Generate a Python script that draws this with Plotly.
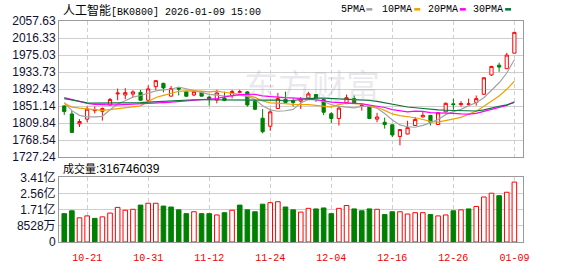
import plotly.graph_objects as go

# ---------------- data ----------------
dates = ["2025-10-16","2025-10-17","2025-10-20","2025-10-21","2025-10-22","2025-10-23","2025-10-24",
         "2025-10-27","2025-10-28","2025-10-29","2025-10-30","2025-10-31","2025-11-03","2025-11-04",
         "2025-11-05","2025-11-06","2025-11-07","2025-11-10","2025-11-11","2025-11-12","2025-11-13",
         "2025-11-14","2025-11-17","2025-11-18","2025-11-19","2025-11-20","2025-11-21","2025-11-24",
         "2025-11-25","2025-11-26","2025-11-27","2025-11-28","2025-12-01","2025-12-02","2025-12-03",
         "2025-12-04","2025-12-05","2025-12-08","2025-12-09","2025-12-10","2025-12-11","2025-12-12",
         "2025-12-15","2025-12-16","2025-12-17","2025-12-18","2025-12-19","2025-12-22","2025-12-23",
         "2025-12-24","2025-12-25","2025-12-26","2025-12-29","2025-12-30","2025-12-31","2026-01-05",
         "2026-01-06","2026-01-07","2026-01-08","2026-01-09"]

opens = [1851.82, 1832.31, 1808.22, 1819.69, 1840.34, 1838.74, 1854.11, 1880.96, 1878.20, 1880.50,
         1884.63, 1865.58, 1898.39, 1906.42, 1875.45, 1894.95, 1886.23, 1878.20, 1885.09, 1873.16,
         1866.04, 1870.86, 1876.37, 1884.86, 1885.78, 1863.29, 1821.99, 1802.49, 1845.39, 1867.88,
         1864.44, 1863.29, 1870.86, 1879.35, 1867.88, 1832.77, 1821.30, 1859.39, 1869.48, 1852.28,
         1850.21, 1819.69, 1812.12, 1805.93, 1777.71, 1783.67, 1804.32, 1824.97, 1828.87, 1806.62,
         1837.36, 1856.86, 1855.03, 1855.49, 1860.31, 1880.04, 1926.85, 1950.48, 1941.99, 1979.62]
highs = [1852.96, 1840.34, 1819.69, 1850.21, 1850.21, 1847.92, 1871.32, 1893.81, 1894.72, 1889.68,
         1890.82, 1901.61, 1913.77, 1908.03, 1900.00, 1897.02, 1888.53, 1888.53, 1887.38, 1877.06,
         1890.82, 1886.23, 1890.82, 1890.82, 1887.38, 1865.58, 1844.25, 1844.93, 1883.25, 1886.23,
         1869.48, 1873.16, 1886.23, 1880.50, 1869.03, 1836.44, 1848.83, 1879.35, 1877.06, 1855.72,
         1851.82, 1835.07, 1823.60, 1807.08, 1795.60, 1815.79, 1824.97, 1837.36, 1830.02, 1837.36,
         1860.31, 1869.48, 1863.29, 1869.48, 1877.06, 1921.34, 1948.87, 1956.67, 1980.31, 2030.78]
lows = [1830.02, 1786.43, 1800.65, 1812.12, 1833.46, 1816.25, 1852.96, 1865.58, 1867.88, 1872.47,
        1864.44, 1864.44, 1890.82, 1884.63, 1874.76, 1877.06, 1873.61, 1875.45, 1874.76, 1852.50,
        1858.01, 1863.29, 1870.17, 1882.79, 1850.21, 1841.49, 1785.28, 1791.47, 1844.93, 1859.85,
        1850.21, 1844.25, 1867.88, 1861.68, 1829.56, 1810.52, 1804.32, 1855.72, 1858.70, 1840.34,
        1819.69, 1812.12, 1796.75, 1776.10, 1756.14, 1782.98, 1803.63, 1824.28, 1804.32, 1805.93,
        1836.44, 1842.64, 1850.21, 1852.50, 1852.50, 1878.20, 1924.55, 1934.42, 1941.30, 1979.16]
closes = [1838.05, 1787.57, 1813.96, 1843.79, 1842.18, 1845.39, 1867.42, 1882.79, 1883.94, 1885.78,
          1865.58, 1893.12, 1913.08, 1895.41, 1893.81, 1892.66, 1875.22, 1886.23, 1875.45, 1869.03,
          1883.25, 1865.13, 1886.69, 1886.23, 1854.11, 1843.79, 1789.18, 1837.36, 1869.48, 1860.31,
          1859.85, 1867.19, 1880.96, 1867.88, 1836.44, 1821.30, 1846.54, 1871.78, 1859.39, 1853.65,
          1821.30, 1824.97, 1806.62, 1781.38, 1794.46, 1799.05, 1819.01, 1828.87, 1812.12, 1835.07,
          1858.01, 1855.03, 1857.32, 1856.63, 1869.48, 1919.96, 1947.49, 1945.89, 1975.03, 2030.10]
volumes_yi = [1.50, 1.65, 1.28, 1.38, 1.25, 1.33, 1.53, 1.83, 1.68, 1.73,
              1.95, 2.05, 2.05, 1.90, 1.85, 1.70, 1.50, 1.60, 1.50, 1.50,
              1.43, 1.55, 1.68, 1.95, 1.70, 1.60, 2.00, 2.08, 2.13, 1.85,
              1.70, 1.58, 1.78, 1.75, 1.80, 1.50, 1.78, 1.93, 1.75, 1.65,
              1.75, 1.73, 1.45, 1.60, 1.60, 1.48, 1.55, 1.55, 1.45, 1.38,
              1.43, 1.65, 1.70, 1.75, 1.88, 2.38, 2.58, 2.45, 2.63, 3.16746039]

# moving-average values before a full window is available
ma5_head = [1859.8, 1840.3, 1828.9, 1825.4]
ma10_head = [1858.0, 1848.8, 1846.5, 1844.2, 1842.6, 1841.0, 1842.6, 1844.9, 1847.2]
ma20_head = [1871.8, 1866.7, 1862.1, 1858.0, 1855.3, 1854.1, 1854.1, 1854.1, 1854.8, 1855.5,
             1856.4, 1857.6, 1858.7, 1859.9, 1861.0, 1862.6, 1863.8, 1865.1, 1866.3]
ma30_head = [1869.5, 1865.6, 1862.1, 1859.4, 1858.7, 1858.7, 1858.7, 1858.7, 1858.7, 1858.7,
             1859.9, 1861.0, 1862.1, 1863.3, 1864.4, 1865.6, 1866.7, 1866.7, 1866.7, 1866.7,
             1866.7, 1866.7, 1866.7, 1866.7, 1866.7, 1865.6, 1865.6, 1865.6, 1865.6]

price_ticks = [1727.24, 1768.54, 1809.84, 1851.14, 1892.43, 1933.73, 1975.03, 2016.33, 2057.63]
price_tick_text = ["1727.24", "1768.54", "1809.84", "1851.14", "1892.43", "1933.73", "1975.03", "2016.33", "2057.63"]
vol_ticks = [0, 85280000, 170560000, 255840000, 341120000]
vol_tick_text = ["0", "8528万", "1.71亿", "2.56亿", "3.41亿"]
date_tick_idx = [3, 11, 19, 27, 35, 43, 51, 59]

title_name = "人工智能"
title_rest = "[BK0800] 2026-01-09 15:00"
vol_label = "成交量"
vol_last = "316746039"
ma_names = ["5PMA", "10PMA", "20PMA", "30PMA"]
ma_colors = ["#a3a3a3", "#f0a000", "#ff00ff", "#08753a"]

# ---------------- derived ----------------
x = list(range(len(dates)))
volumes = [v * 1e8 for v in volumes_yi]


def moving_avg(n, head):
    out = list(head)
    for i in range(n - 1, len(closes)):
        out.append(sum(closes[i - n + 1:i + 1]) / n)
    return out


mas = [moving_avg(5, ma5_head), moving_avg(10, ma10_head),
       moving_avg(20, ma20_head), moving_avg(30, ma30_head)]

RED = "#ff0000"
GREEN = "#008000"
vol_fill, vol_line = [], []
for i in range(len(closes)):
    up = closes[i] >= (closes[i - 1] if i > 0 else opens[i])
    vol_fill.append("#ffffff" if up else GREEN)
    vol_line.append(RED if up else GREEN)

fig = go.Figure()
for name, col, m in zip(ma_names, ma_colors, mas):
    fig.add_trace(go.Scatter(x=x, y=m, mode="lines", line=dict(color=col, width=1.2),
                             showlegend=False, hoverinfo="skip", xaxis="x", yaxis="y"))
fig.add_trace(go.Candlestick(
    x=x, open=opens, high=highs, low=lows, close=closes,
    increasing=dict(line=dict(color=RED, width=1), fillcolor="#ffffff"),
    decreasing=dict(line=dict(color=GREEN, width=1), fillcolor=GREEN),
    whiskerwidth=0, showlegend=False, hoverinfo="skip", xaxis="x", yaxis="y"))
fig.add_trace(go.Bar(x=x, y=volumes, width=0.6,
                     marker=dict(color=vol_fill, line=dict(color=vol_line, width=1)),
                     showlegend=False, hoverinfo="skip", xaxis="x2", yaxis="y2"))

W, H = 578, 276
ML, MR, MT, MB = 55, 55, 21, 21
PW, PH = W - ML - MR, H - MT - MB


def px(xp):
    return (xp - ML) / PW


def py(yp):
    return (H - MB - yp) / PH


xr = [-0.689, 60.13]
tick_font = dict(family="Liberation Sans, Arial, Noto Sans CJK SC", size=12, color="#101030")
grid_col = "#cfcfcf"
border_col = "#9a9a9a"

common_x = dict(range=xr, tickmode="array", tickvals=date_tick_idx, showgrid=True,
                gridcolor=grid_col, griddash="4px,3px", gridwidth=1, showline=True,
                linecolor=border_col, linewidth=1, mirror=True, zeroline=False, ticks="",
                fixedrange=True)

fig.update_layout(
    width=W, height=H, margin=dict(l=ML, r=MR, t=MT, b=MB),
    paper_bgcolor="white", plot_bgcolor="white", showlegend=False,
    boxgap=0.4,
    xaxis=dict(domain=[0, 1], anchor="y", showticklabels=False,
               rangeslider=dict(visible=False), **common_x),
    yaxis=dict(domain=[py(165.3), 1], range=[price_ticks[0], price_ticks[-1]],
               tickmode="array", tickvals=price_ticks, ticktext=price_tick_text,
               showgrid=True, gridcolor=grid_col, gridwidth=1, showline=True,
               linecolor=border_col, mirror=True, zeroline=False, ticks="",
               tickfont=tick_font),
    xaxis2=dict(domain=[0, 1], anchor="y2", showticklabels=True,
                ticktext=[dates[i][5:] for i in date_tick_idx], ticklabelstandoff=6,
                tickfont=dict(family="Liberation Mono, DejaVu Sans Mono", size=10, color="#f00000"),
                **common_x),
    yaxis2=dict(domain=[0, py(186.7)], range=[0, vol_ticks[-1]],
                tickmode="array", tickvals=vol_ticks, ticktext=vol_tick_text,
                showgrid=True, gridcolor=grid_col, gridwidth=1, showline=True,
                linecolor=border_col, mirror=True, zeroline=False, ticks="",
                tickfont=tick_font),
)

annos = [
    dict(x=px(57), y=py(8.5), xref="paper", yref="paper", xanchor="left", yanchor="middle",
         showarrow=False,
         text=("<span style='font-family:Noto Sans CJK SC;font-size:12px'>" + title_name +
               "</span>" + title_rest),
         font=dict(family="Liberation Mono, DejaVu Sans Mono", size=10, color="#000000")),
    dict(x=px(57), y=py(177), xref="paper", yref="paper", xanchor="left", yanchor="middle",
         showarrow=False,
         text=("<span style='font-family:Noto Sans CJK SC;font-size:11px'>" + vol_label +
               "</span>:" + vol_last),
         font=dict(family="Liberation Sans, Arial", size=12, color="#000000")),
    dict(x=px(310), y=py(88), xref="paper", yref="paper", xanchor="center", yanchor="middle",
         showarrow=False, text="东方财富",
         font=dict(family="Noto Sans CJK SC", size=34, color="rgba(170,170,185,0.25)")),
]
legend_text_x = [338, 380, 426, 471.5]
legend_sq_x = [365, 413.3, 459.3, 505]
shapes = []
for name, col, tx, sx in zip(ma_names, ma_colors, legend_text_x, legend_sq_x):
    annos.append(dict(x=px(tx), y=py(8.7), xref="paper", yref="paper", xanchor="left",
                      yanchor="middle", showarrow=False, text=name, borderpad=0,
                      font=dict(family="Liberation Mono, DejaVu Sans Mono", size=10, color="#000000")))
    shapes.append(dict(type="rect", xref="paper", yref="paper", x0=px(sx), x1=px(sx + 6),
                       y0=py(10), y1=py(7.3), fillcolor=col, line=dict(width=0)))
fig.update_layout(annotations=annos, shapes=shapes)

fig.write_html("out.html")
